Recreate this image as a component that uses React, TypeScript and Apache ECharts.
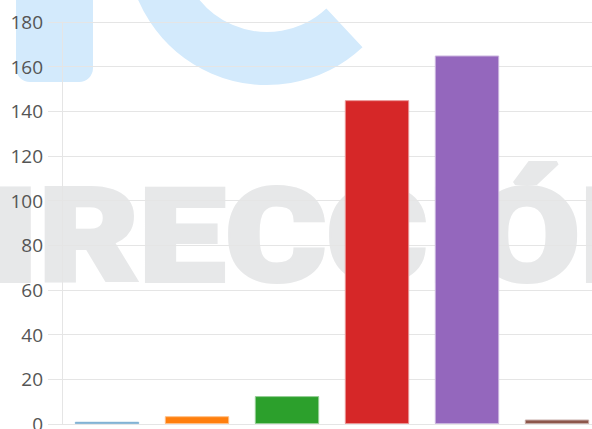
import React, { useEffect, useRef } from "react";
import * as echarts from "echarts";

const categories = ["A", "B", "C", "D", "E", "F"];
const values = [1, 3.5, 12.5, 145, 165, 2];
const barColors = ["#1f77b4", "#ff7f0e", "#2ca02c", "#d62728", "#9467bd", "#8c564b"];
const barBorders = ["#8fbbd9", "#ffbf86", "#95cf95", "#ea9393", "#c9b3de", "#c5aaa5"];
const yTicks = { min: 0, max: 180, interval: 20 };
const watermarkWord = "DIRECCIÓN";

function measure(txt: string, font: string, baseline: CanvasTextBaseline = "alphabetic") {
  const ctx = document.createElement("canvas").getContext("2d")!;
  ctx.font = font;
  ctx.textBaseline = baseline;
  return ctx.measureText(txt);
}

export default function App() {
  const ref = useRef<HTMLDivElement>(null);
  useEffect(() => {
    if (!ref.current) return;
    const chart = echarts.init(ref.current, null, { renderer: "svg" });
    const wmBlue = "#d3eafc";
    const wmGrey = "#e7e8e9";
    const stroke = 4;

    // fit the watermark word to the reference frame (R ink 45..Ó ink 577, caps 183..284)
    const fam = "Roboto";
    const fontAt = (s: number) => `900 ${s}px ${fam}`;
    const cap100 = measure("E", fontAt(100)).actualBoundingBoxAscent || 71;
    const fontSize = ((100 * (101 - stroke)) / cap100) * 0.962;
    const f = fontAt(fontSize);
    const m1 = measure("RECCIÓ", f);
    const inkL = -(m1.actualBoundingBoxLeft || 0);
    const inkR = m1.actualBoundingBoxRight || m1.width;
    const wDI = measure("DI", f).width;
    const sx = (577 - 45 - stroke) / (inkR - inkL);
    const tx = 45 + stroke / 2 - sx * (wDI + inkL);
    const ascMid = measure("E", f, "middle").actualBoundingBoxAscent || fontSize * 0.37;
    const ty = 183 + stroke / 2 + ascMid - 9;

    chart.setOption({
      animation: false,
      backgroundColor: "#ffffff",
      graphic: [
        {
          type: "rect",
          z: -10,
          shape: { x: 16, y: -40, width: 77, height: 122, r: [0, 0, 14, 14] },
          style: { fill: wmBlue },
        },
        {
          type: "arc",
          z: -10,
          shape: { cx: 267, cy: -55, r: 113.5, startAngle: 0.82, endAngle: Math.PI, clockwise: true },
          style: { stroke: wmBlue, lineWidth: 53, fill: null, lineCap: "butt" },
        },
        {
          type: "text",
          z: -10,
          x: tx,
          y: ty,
          scaleX: sx,
          scaleY: 1,
          style: {
            text: watermarkWord,
            align: "left",
            verticalAlign: "middle",
            font: f,
            fill: wmGrey,
            stroke: wmGrey,
            lineWidth: stroke,
          },
        },
      ],
      grid: {
        left: 62,
        top: 22,
        width: 540,
        height: 402,
        containLabel: false,
        outerBoundsMode: "none",
      },
      xAxis: {
        type: "category",
        data: categories,
        axisLine: { show: true, lineStyle: { color: "#e5e5e5", width: 1 } },
        axisTick: { show: false },
        axisLabel: { show: false },
        splitLine: { show: false },
      },
      yAxis: {
        type: "value",
        min: yTicks.min,
        max: yTicks.max,
        interval: yTicks.interval,
        axisLine: { show: true, lineStyle: { color: "#e5e5e5", width: 1 } },
        axisTick: { show: true, length: 14, lineStyle: { color: "#e5e5e5", width: 1 } },
        axisLabel: {
          color: "#555555",
          fontSize: 19,
          fontFamily: "Open Sans",
          margin: 19,
        },
        splitLine: { show: true, lineStyle: { color: "#e5e5e5", width: 1 } },
      },
      series: [
        {
          type: "bar",
          barCategoryGap: "28.5%",
          data: values.map((v, i) => ({
            value: v,
            itemStyle: { color: barColors[i], borderColor: barBorders[i], borderWidth: 1 },
          })),
        },
      ],
    });
    return () => chart.dispose();
  }, []);
  return (
    <div
      ref={ref}
      style={{ position: "fixed", left: 0, top: 0, width: 592, height: 429 }}
    />
  );
}
